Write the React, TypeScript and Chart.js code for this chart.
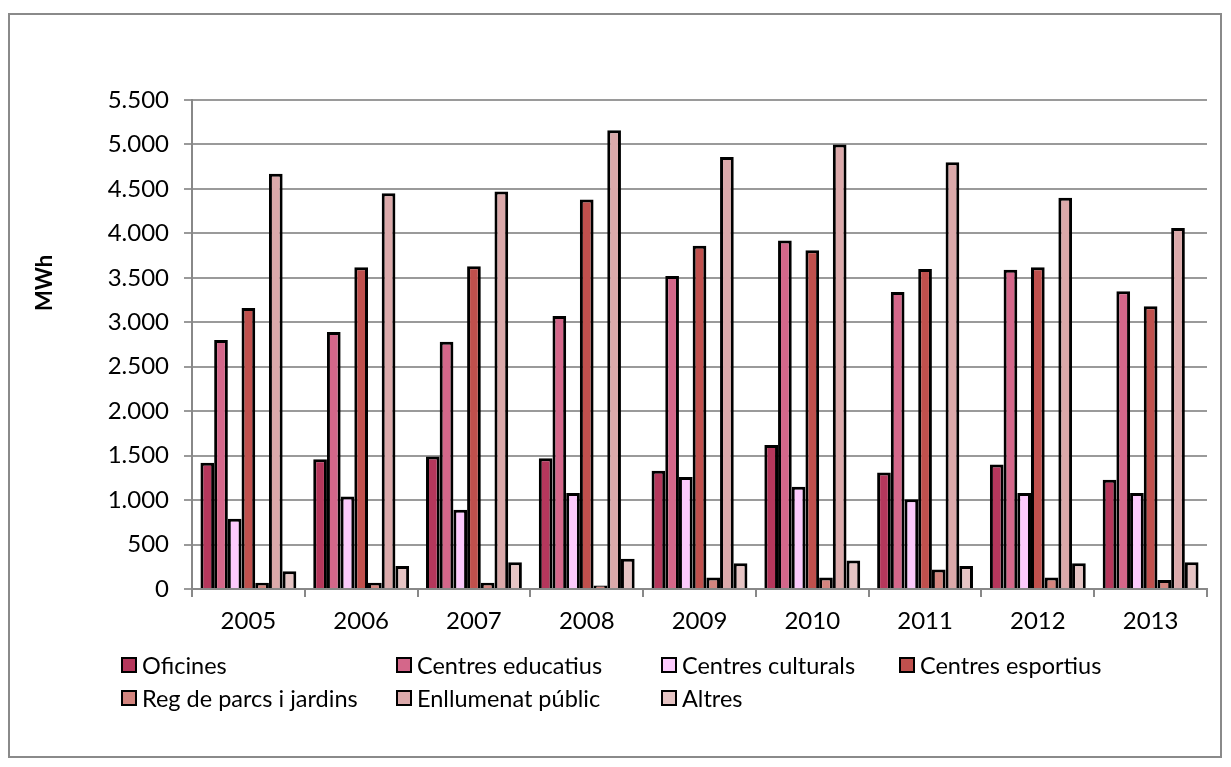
import React, { useEffect, useRef } from "react";
import { Chart, registerables } from "chart.js";

Chart.register(...registerables);

const years = ["2005", "2006", "2007", "2008", "2009", "2010", "2011", "2012", "2013"];
const oficines = [1420, 1460, 1490, 1470, 1330, 1620, 1310, 1400, 1230];
const educatius = [2800, 2890, 2780, 3070, 3520, 3920, 3340, 3590, 3350];
const culturals = [790, 1040, 890, 1080, 1260, 1150, 1010, 1080, 1080];
const esportius = [3160, 3620, 3630, 4380, 3860, 3810, 3600, 3620, 3180];
const reg = [70, 70, 70, 40, 130, 130, 220, 130, 100];
const enllumenat = [4670, 4450, 4470, 5160, 4860, 5000, 4800, 4400, 4060];
const altres = [200, 260, 300, 340, 290, 320, 260, 290, 300];

const seriesNames = [
  "Oficines",
  "Centres educatius",
  "Centres culturals",
  "Centres esportius",
  "Reg de parcs i jardins",
  "Enllumenat públic",
  "Altres",
];
const seriesData = [oficines, educatius, culturals, esportius, reg, enllumenat, altres];
const seriesColors = ["#B5375C", "#D4678A", "#FCCAFC", "#C0504D", "#D4857F", "#DBA9AA", "#E6C4C4"];
const yTitle = "MWh";

const FONT = "Lato, 'Open Sans', sans-serif";

const fmt = (v: number) => {
  const s = Math.round(v).toString();
  return s.replace(/\B(?=(\d{3})+(?!\d))/g, ".");
};

const extrasPlugin = {
  id: "extras",
  afterDraw(chart: any) {
    const ctx = chart.ctx;
    ctx.save();
    ctx.font = `bold 22px ${FONT}`;
    ctx.fillStyle = "#000";
    ctx.textAlign = "center";
    ctx.textBaseline = "middle";
    ctx.translate(35, 268);
    ctx.rotate(-Math.PI / 2);
    ctx.fillText(yTitle, 0, 0);
    ctx.restore();

    ctx.save();
    const cols = [112, 387, 652, 890];
    const rows = [650, 683];
    ctx.font = `23.5px ${FONT}`;
    ctx.textAlign = "left";
    ctx.textBaseline = "middle";
    chart.data.datasets.forEach((ds: any, i: number) => {
      const x = cols[i % 4];
      const y = rows[Math.floor(i / 4)];
      ctx.fillStyle = ds.backgroundColor;
      ctx.fillRect(x, y - 7, 14, 14);
      ctx.lineWidth = 2;
      ctx.strokeStyle = "#000";
      ctx.strokeRect(x, y - 7, 14, 14);
      ctx.fillStyle = "#000";
      ctx.fillText(ds.label, x + 20, y + 1);
    });
    ctx.restore();
  },
};

export default function App() {
  const ref = useRef<HTMLCanvasElement | null>(null);
  useEffect(() => {
    if (!ref.current) return;
    const chart = new Chart(ref.current, {
      type: "bar",
      data: {
        labels: years,
        datasets: seriesNames.map((name, i) => ({
          label: name,
          data: seriesData[i],
          backgroundColor: seriesColors[i],
          borderColor: "#000",
          borderWidth: 3,
          categoryPercentage: 0.85,
          barPercentage: 1,
        })),
      },
      options: {
        animation: false,
        responsive: false,
        maintainAspectRatio: false,
        layout: { padding: { left: 0, top: 85, right: 13, bottom: 0 } },
        plugins: { legend: { display: false }, tooltip: { enabled: false } },
        scales: {
          x: {
            afterFit: (s: any) => {
              s.height = 167;
            },
            grid: {
              display: true,
              drawOnChartArea: false,
              offset: true,
              tickLength: 8,
              color: "#888",
              lineWidth: 2,
            },
            border: { color: "#888", width: 2 },
            ticks: { color: "#000", font: { family: FONT, size: 24 }, padding: 10 },
          },
          y: {
            min: 0,
            max: 5500,
            afterFit: (s: any) => {
              s.width = 182;
            },
            grid: { color: "#9a9a9a", lineWidth: 2, tickLength: 8 },
            border: { color: "#888", width: 2 },
            ticks: {
              stepSize: 500,
              color: "#000",
              font: { family: FONT, size: 24 },
              padding: 15,
              callback: (v: any) => fmt(Number(v)),
            },
          },
        },
      },
      plugins: [extrasPlugin],
    });
    return () => chart.destroy();
  }, []);
  return (
    <div
      style={{
        border: "2px solid #8a8a8a",
        width: 1210,
        height: 741,
        marginTop: 5,
        background: "#fff",
      }}
    >
      <canvas ref={ref} width={1210} height={741} style={{ display: "block" }} />
    </div>
  );
}
